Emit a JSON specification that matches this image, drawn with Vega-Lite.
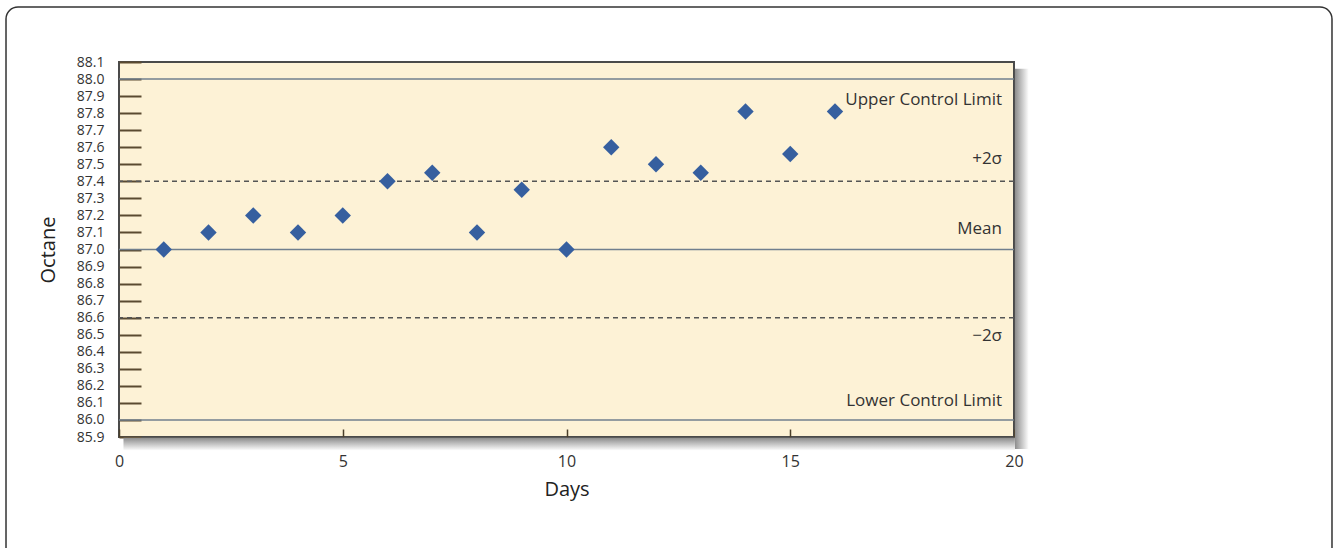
{
  "$schema": "https://vega.github.io/schema/vega-lite/v6.json",
  "width": 895,
  "height": 375,
  "autosize": "none",
  "padding": {"left": 119, "top": 62, "right": 320, "bottom": 111},
  "background": "white",
  "config": {
    "font": "Open Sans",
    "view": {"fill": "#FDF2D6", "stroke": "#4a4a4a", "strokeWidth": 2}
  },
  "datasets": {
    "points": [
      {"day": 1, "octane": 87.0},
      {"day": 2, "octane": 87.1},
      {"day": 3, "octane": 87.2},
      {"day": 4, "octane": 87.1},
      {"day": 5, "octane": 87.2},
      {"day": 6, "octane": 87.4},
      {"day": 7, "octane": 87.45},
      {"day": 8, "octane": 87.1},
      {"day": 9, "octane": 87.35},
      {"day": 10, "octane": 87.0},
      {"day": 11, "octane": 87.6},
      {"day": 12, "octane": 87.5},
      {"day": 13, "octane": 87.45},
      {"day": 14, "octane": 87.81},
      {"day": 15, "octane": 87.56},
      {"day": 16, "octane": 87.81}
    ],
    "limits": [
      {"level": 88.0, "kind": "solid"},
      {"level": 87.0, "kind": "solid"},
      {"level": 86.0, "kind": "solid"}
    ],
    "sigmas": [
      {"level": 87.4, "kind": "dashed"},
      {"level": 86.6, "kind": "dashed"}
    ],
    "labels": [
      {"label": "Upper Control Limit", "pos": 87.88},
      {"label": "+2σ", "pos": 87.53},
      {"label": "Mean", "pos": 87.12},
      {"label": "−2σ", "pos": 86.49},
      {"label": "Lower Control Limit", "pos": 86.11}
    ]
  },
  "layer": [
    {
      "data": {"values": [{}]},
      "mark": {"type": "rect", "filled": false, "stroke": "#333333", "strokeWidth": 1.5, "cornerRadius": 12, "clip": false},
      "encoding": {
        "x": {"datum": -2.525, "type": "quantitative", "scale": {"domain": [0, 20]}},
        "x2": {"datum": 27.106},
        "y": {"datum": 88.4227, "type": "quantitative", "scale": {"domain": [85.9, 88.1]}},
        "y2": {"datum": 85.1}
      }
    },
    {
      "data": {"values": [{}]},
      "mark": {"type": "rect", "clip": false, "color": {"gradient": "linear", "x1": 0, "x2": 1, "y1": 0, "y2": 0, "stops": [{"offset": 0, "color": "#8c8c8c"}, {"offset": 1, "color": "#ffffff"}]}},
      "encoding": {
        "x": {"datum": 20.02, "type": "quantitative"},
        "x2": {"datum": 20.33},
        "y": {"datum": 88.06, "type": "quantitative"},
        "y2": {"datum": 85.83}
      }
    },
    {
      "data": {"values": [{}]},
      "mark": {"type": "rect", "clip": false, "color": {"gradient": "linear", "x1": 0, "x2": 0, "y1": 0, "y2": 1, "stops": [{"offset": 0, "color": "#8c8c8c"}, {"offset": 1, "color": "#ffffff"}]}},
      "encoding": {
        "x": {"datum": 0.1, "type": "quantitative"},
        "x2": {"datum": 20.02},
        "y": {"datum": 85.895, "type": "quantitative"},
        "y2": {"datum": 85.82}
      }
    },
    {
      "data": {"name": "limits"},
      "mark": {"type": "rule", "stroke": "#707f8e", "strokeWidth": 1.5},
      "encoding": {"y": {"field": "level", "type": "quantitative"}}
    },
    {
      "data": {"name": "sigmas"},
      "mark": {"type": "rule", "stroke": "#555555", "strokeWidth": 1.5, "strokeDash": [5, 4]},
      "encoding": {"y": {"field": "level", "type": "quantitative"}}
    },
    {
      "data": {"name": "points"},
      "mark": {"type": "point", "shape": "diamond", "filled": true, "size": 270, "color": "#365f9f", "opacity": 1},
      "encoding": {
        "x": {
          "field": "day",
          "type": "quantitative",
          "scale": {"domain": [0, 20], "nice": false, "zero": false},
          "axis": {
            "title": "Days",
            "values": [0, 5, 10, 15, 20],
            "tickCount": 5,
            "grid": false,
            "domain": false,
            "tickSize": -8,
            "tickColor": "#4a3f2a",
            "tickWidth": 1.5,
            "labelPadding": 24,
            "labelFlush": false,
            "labelOverlap": false,
            "labelFontSize": 16,
            "labelColor": "#333333",
            "titleFontSize": 20,
            "titleFontWeight": "normal",
            "titleColor": "#222222",
            "titlePadding": 10
          }
        },
        "y": {
          "field": "octane",
          "type": "quantitative",
          "scale": {"domain": [85.9, 88.1], "nice": false, "zero": false},
          "axis": {
            "title": "Octane",
            "values": [85.9, 86.0, 86.1, 86.2, 86.3, 86.4, 86.5, 86.6, 86.7, 86.8, 86.9, 87.0, 87.1, 87.2, 87.3, 87.4, 87.5, 87.6, 87.7, 87.8, 87.9, 88.0, 88.1],
            "tickCount": 23,
            "format": ".1f",
            "grid": false,
            "domain": false,
            "tickSize": -22,
            "tickColor": "#5a4a30",
            "tickWidth": 2,
            "labelPadding": 37,
            "labelOverlap": false,
            "labelFlush": false,
            "labelFontSize": 14,
            "labelColor": "#333333",
            "titleFontSize": 20,
            "titleFontWeight": "normal",
            "titleColor": "#222222",
            "titlePadding": 18
          }
        }
      }
    },
    {
      "data": {"name": "labels"},
      "mark": {"type": "text", "align": "right", "baseline": "middle", "dx": -12, "fontSize": 17, "color": "#333333"},
      "encoding": {
        "x": {"datum": 20, "type": "quantitative"},
        "y": {"field": "pos", "type": "quantitative"},
        "text": {"field": "label"}
      }
    }
  ]
}
